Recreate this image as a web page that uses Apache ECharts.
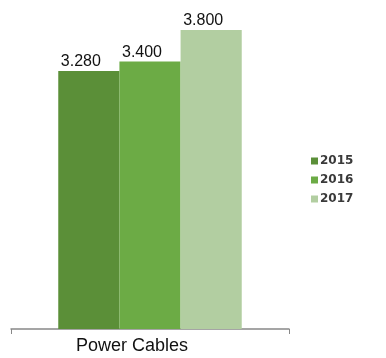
<!DOCTYPE html>
<html>
<head>
<meta charset="utf-8">
<script src="https://cdn.jsdelivr.net/npm/echarts@6/dist/echarts.min.js"></script>
<style>
  html, body { margin: 0; padding: 0; background: #fff; }
  #chart { width: 386px; height: 358px; }
</style>
</head>
<body>
<div id="chart"></div>
<script>
// Cable production by year
const categories = ['Power Cables'];
const years = ['2015', '2016', '2017'];
const values2015 = [3.280];
const values2016 = [3.400];
const values2017 = [3.800];
const colors = ['#5b8f38', '#6cab45', '#b2cea1'];

const seriesValues = [values2015, values2016, values2017];

const chart = echarts.init(document.getElementById('chart'));
chart.setOption({
  animation: false,
  color: colors,
  grid: { left: 11, right: 97, top: 30, bottom: 29, containLabel: false },
  legend: {
    orient: 'vertical',
    left: 306,
    top: 150,
    itemWidth: 7,
    itemHeight: 7,
    itemGap: 7,
    icon: 'rect',
    data: years,
    textStyle: { fontFamily: 'DejaVu Sans', fontSize: 12, fontWeight: 'bold', color: '#3a3a3a', padding: [0, 0, 0, -3] }
  },
  xAxis: {
    type: 'category',
    data: categories,
    axisLine: { lineStyle: { color: '#888', width: 1.5 } },
    axisTick: { show: true, alignWithLabel: false, length: 5, lineStyle: { color: '#888' } },
    axisLabel: { fontFamily: 'Liberation Sans, Arial', fontSize: 18, color: '#111', margin: 8, padding: [0, 36, 0, 0] }
  },
  yAxis: {
    type: 'value',
    min: 0,
    max: 3.8,
    show: false,
    splitLine: { show: false }
  },
  series: years.map((y, i) => ({
    name: y,
    type: 'bar',
    data: seriesValues[i],
    barGap: '0%',
    barCategoryGap: '34%',
    label: {
      show: true,
      position: 'top',
      distance: 1,
      offset: [-8, 0],
      formatter: p => p.value.toFixed(3),
      fontFamily: 'Liberation Sans, Arial',
      fontSize: 16,
      color: '#111'
    }
  }))
});
</script>
</body>
</html>
